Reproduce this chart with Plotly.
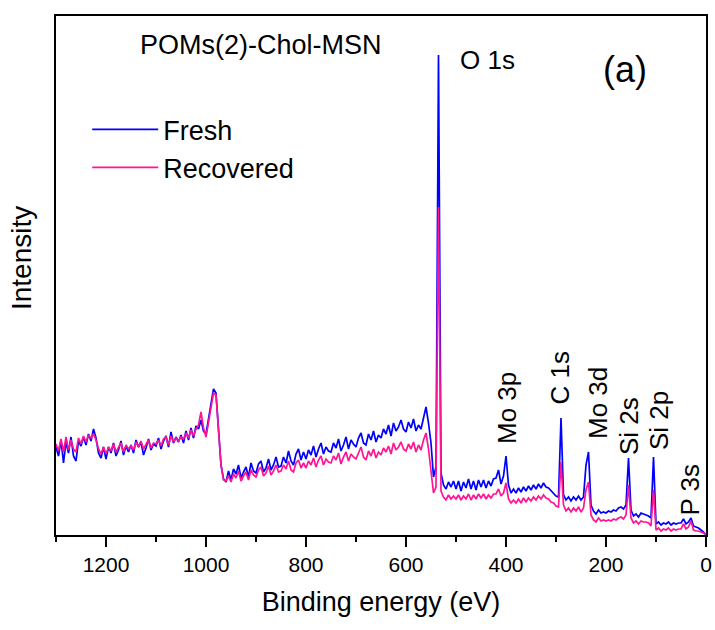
import plotly.graph_objects as go

# XPS survey spectra of POMs(2)-Chol-MSN, sampled every 5 eV from 1300 eV down to 0 eV
binding_energy = list(range(1300, -1, -5))

fresh = [
    88, 79, 95, 72, 93, 82, 98, 79, 74, 94,          # 1300-1255
    89, 98, 90, 101, 94, 106, 97, 82, 77, 88,        # 1250-1205
    76, 88, 82, 92, 79, 85, 94, 80, 89, 83,          # 1200-1155
    90, 82, 95, 88, 93, 80, 87, 96, 85, 91,          # 1150-1105
    89, 97, 86, 94, 99, 88, 103, 92, 98, 93,         # 1100-1055
    100, 92, 104, 95, 107, 97, 109, 106, 115, 104,   # 1050-1005
    101, 116, 135, 146, 142, 104, 70, 56, 53, 64,    # 1000-955
    55, 66, 61, 70, 57, 63, 68, 58, 72, 64,          # 950-905
    62, 71, 74, 63, 67, 76, 65, 70, 78, 68,          # 900-855
    69, 78, 72, 84, 74, 70, 81, 86, 75, 83,          # 850-805
    76, 85, 80, 89, 78, 86, 92, 81, 88, 84,          # 800-755
    83, 92, 87, 96, 84, 90, 98, 86, 95, 91,          # 750-705
    88, 97, 102, 92, 90, 101, 95, 104, 93, 100,      # 700-655
    97, 106, 101, 110, 99, 112, 104, 108, 115, 106,  # 650-605
    103, 113, 107, 116, 104, 110, 106, 117, 128, 112,# 600-555
    92, 58, 68, 480, 62, 50, 46, 53, 48, 54,         # 550-505
    46, 54, 44, 53, 47, 56, 46, 54, 45, 55,          # 500-455
    48, 55, 47, 54, 49, 56, 57, 65, 51, 59,          # 450-405
    79, 50, 42, 46, 42, 47, 43, 48, 44, 49,          # 400-355
    45, 50, 46, 51, 47, 52, 48, 47, 44, 42,          # 350-305
    39, 38, 117, 40, 35, 38, 34, 38, 35, 39,         # 300-255
    35, 38, 70, 83, 30, 24, 21, 25, 22, 23,          # 250-205
    22, 24, 23, 25, 24, 27, 28, 26, 30, 77,          # 200-155
    25, 19, 21, 18, 22, 21, 20, 19, 17, 78,          # 150-105
    11, 13, 10, 12, 11, 13, 10, 12, 11, 12,          # 100-55
    12, 16, 11, 13, 17, 9, 8, 7, 5, 3,               # 50-5
    0,                                               # 0
]

recovered = [
    91, 84, 96, 83, 98, 85, 95, 86, 83, 97,          # 1300-1255
    91, 99, 93, 100, 97, 101, 95, 86, 81, 88,        # 1250-1205
    81, 88, 84, 91, 83, 87, 92, 83, 90, 86,          # 1200-1155
    89, 85, 93, 88, 94, 86, 90, 95, 87, 92,          # 1150-1105
    91, 95, 89, 96, 98, 90, 99, 93, 97, 94,          # 1100-1055
    98, 96, 102, 97, 105, 99, 106, 110, 123, 107,    # 1050-1005
    98, 113, 130, 142, 140, 102, 70, 55, 54, 59,     # 1000-955
    53, 61, 57, 64, 54, 59, 63, 55, 65, 60,          # 950-905
    58, 65, 68, 59, 62, 69, 60, 64, 70, 63,          # 900-855
    64, 70, 66, 74, 65, 63, 72, 75, 67, 72,          # 850-805
    67, 74, 70, 77, 68, 75, 79, 70, 76, 73,          # 800-755
    72, 79, 75, 82, 71, 78, 83, 74, 81, 78,          # 750-705
    76, 82, 88, 78, 75, 84, 79, 86, 77, 83,          # 700-655
    80, 87, 83, 89, 81, 92, 85, 88, 93, 86,          # 650-605
    84, 91, 86, 93, 83, 90, 85, 95, 102, 86,         # 600-555
    66, 42, 48, 328, 44, 38, 35, 40, 36, 39,         # 550-505
    36, 40, 35, 39, 36, 41, 35, 40, 36, 41,          # 500-455
    37, 41, 36, 40, 37, 41, 41, 46, 39, 42,          # 450-405
    52, 36, 32, 35, 32, 36, 32, 37, 33, 37,          # 400-355
    34, 38, 35, 39, 36, 40, 37, 36, 33, 32,          # 350-305
    29, 28, 73, 30, 24, 27, 23, 27, 24, 28,          # 300-255
    23, 27, 45, 53, 20, 15, 13, 17, 14, 15,          # 250-205
    14, 15, 14, 16, 15, 17, 18, 16, 20, 50,          # 200-155
    17, 12, 14, 11, 14, 13, 13, 12, 9, 45,           # 150-105
    5, 7, 4, 6, 5, 7, 4, 6, 5, 6,                    # 100-55
    6, 11, 6, 8, 14, 5, 4, 4, 3, 2,                  # 50-5
    0,                                               # 0
]

series_names = ["Fresh", "Recovered"]
series_colors = ["#0000FF", "#FF1493"]

# Peak assignments: (label, binding energy, label height)
peak_labels = [
    ("Mo 3p", 398, 127),
    ("C 1s", 293, 157),
    ("Mo 3d", 216, 132),
    ("Si 2s", 154, 109),
    ("Si 2p", 94, 114),
    ("P 3s", 33, 45),
]

FONT = "Liberation Sans, Arial, sans-serif"

fig = go.Figure()
for name, color, values in zip(series_names, series_colors, [fresh, recovered]):
    fig.add_trace(go.Scatter(
        x=binding_energy, y=values, mode="lines", name=name,
        line=dict(color=color, width=1.7),
    ))

for text, ev, h in peak_labels:
    fig.add_annotation(x=ev, y=h, text=text, textangle=-90, showarrow=False,
                       font=dict(family=FONT, size=26, color="black"))

fig.add_annotation(x=438, y=475, text="O 1s", showarrow=False,
                   font=dict(family=FONT, size=26, color="black"))
fig.add_annotation(x=162, y=466, text="(a)", showarrow=False,
                   font=dict(family=FONT, size=36, color="black"))
fig.add_annotation(x=890, y=490, text="POMs(2)-Chol-MSN", showarrow=False,
                   font=dict(family=FONT, size=27, color="black"))

# Y-axis title, set slightly above the vertical middle of the frame
fig.add_annotation(xref="paper", yref="paper", x=-0.052, y=0.534,
                   xanchor="center", yanchor="middle",
                   text="Intensity", textangle=-90, showarrow=False,
                   font=dict(family=FONT, size=28, color="black"))

fig.update_layout(
    width=715, height=630,
    margin=dict(l=56, r=9, t=16, b=95),
    paper_bgcolor="white", plot_bgcolor="white",
    font=dict(family=FONT, color="black"),
    showlegend=True,
    legend=dict(x=0.048, y=0.828, xanchor="left", yanchor="top",
                bgcolor="rgba(0,0,0,0)", font=dict(family=FONT, size=27),
                itemwidth=66, tracegroupgap=0),
    xaxis=dict(
        range=[1300, 0], tick0=0, dtick=200, automargin=False,
        ticks="outside", ticklen=10, tickwidth=1.5, tickcolor="black",
        minor=dict(dtick=100, ticks="outside", ticklen=5, tickwidth=1.5, tickcolor="black"),
        showline=True, linecolor="black", linewidth=1.6, mirror=True,
        showgrid=False, zeroline=False,
        tickfont=dict(family=FONT, size=21),
        title=dict(text="Binding energy (eV)", font=dict(family=FONT, size=27), standoff=17),
    ),
    yaxis=dict(
        range=[0, 519], showticklabels=False, ticks="", automargin=False,
        showline=True, linecolor="black", linewidth=1.6, mirror=True,
        showgrid=False, zeroline=False,
    ),
)

fig.write_html("out.html")
